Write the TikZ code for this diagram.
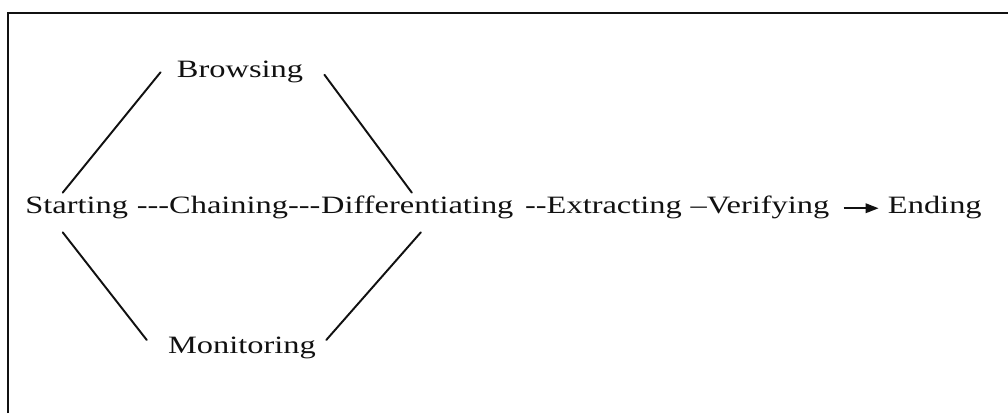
\documentclass[tikz,border=0pt]{standalone}
\usepackage{fontspec}
\setmainfont{Liberation Serif}[Ligatures=TeXOff, FakeStretch=1.3]
\usetikzlibrary{arrows.meta,positioning}
\definecolor{spink}{HTML}{111111}
\tikzset{
  sp word/.style={font=\fontsize{14.2pt}{17pt}\selectfont, text=spink, inner sep=0pt,
    text height=0.34cm, text depth=0.11cm},
  sp link/.style={draw=spink, line width=1.1pt, line cap=round},
  sp arrow/.style={-{Triangle[length=2.6mm,width=1.9mm]}, line width=1.1pt, draw=spink},
  sp frame/.style={draw=spink, line width=0.8pt}
}

\begin{document}
\begin{tikzpicture}[x=1cm, y=1cm]
  \useasboundingbox (0,0) rectangle (20.16,8.26);
  \draw[sp frame] (0.16,0) -- (0.16,8.0) -- (20.16,8.0);
  \node[sp word, anchor=base west] (starting) at (0.50,3.98) {Starting};
  \node[sp word, base right=0.16cm of starting] (chaining) {---Chaining---};
  \node[sp word, base right=0pt of chaining] (diff) {Differentiating};
  \node[sp word, base right=0.22cm of diff] (extracting) {--Extracting};
  \node[sp word, base right=0.16cm of extracting] (verifying) {–Verifying};
  \node[sp word, base right=1.16cm of verifying] (ending) {Ending};
  \node[sp word, anchor=base] (browsing) at (4.80,6.70) {Browsing};
  \node[sp word, anchor=base] (monitoring) at (4.84,1.18) {Monitoring};
  \draw[sp link] ([xshift=-0.28cm, yshift=0.08cm]starting.north) -- ([xshift=-0.32cm]browsing.west);
  \draw[sp link] ([xshift=0.42cm, yshift=-0.05cm]browsing.east) -- ([xshift=-0.11cm, yshift=0.08cm]diff.north);
  \draw[sp link] ([xshift=-0.28cm, yshift=-0.25cm]starting.south) -- ([xshift=-0.42cm, yshift=0.165cm]monitoring.west);
  \draw[sp link] ([xshift=0.20cm, yshift=0.165cm]monitoring.east) -- ([xshift=0.07cm, yshift=-0.25cm]diff.south);
  \draw[sp arrow, shorten <=0.28cm, shorten >=0.18cm] (verifying.east) -- (ending.west);
\end{tikzpicture}
\end{document}
